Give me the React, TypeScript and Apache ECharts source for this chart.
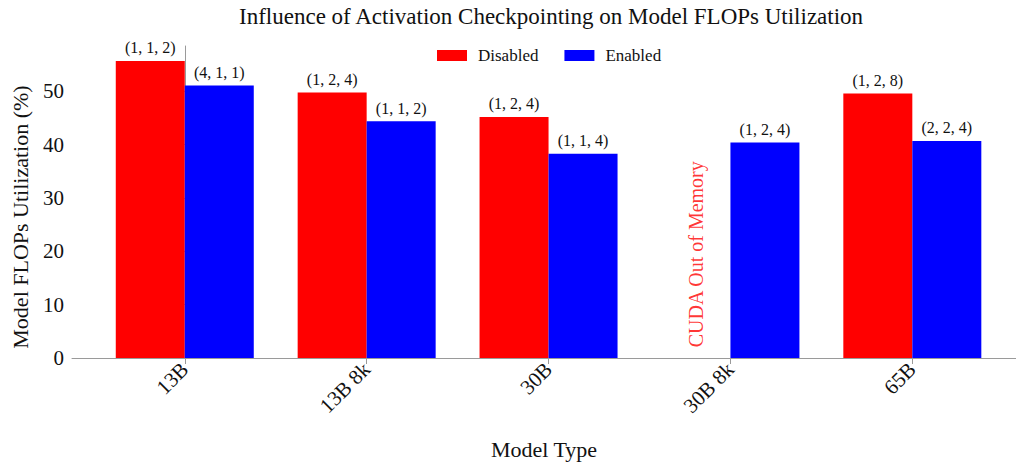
import React, { useEffect, useRef } from "react";
import * as echarts from "echarts";

const categories = ["13B", "13B 8k", "30B", "30B 8k", "65B"];
const disabledValues: (number | null)[] = [55.7, 49.8, 45.2, null, 49.6];
const enabledValues = [51.1, 44.4, 38.3, 40.4, 40.7];
const disabledLabels = ["(1, 1, 2)", "(1, 2, 4)", "(1, 2, 4)", "", "(1, 2, 8)"];
const enabledLabels = ["(4, 1, 1)", "(1, 1, 2)", "(1, 1, 4)", "(1, 2, 4)", "(2, 2, 4)"];
const yTicks = [0, 10, 20, 30, 40, 50];
const oomText = "CUDA Out of Memory";
const oomCategory = 3;
const oomY = 2;

const FONT = "Liberation Serif";
const TEXT = "#111111";
const AXIS = "#9a9a9a";

export default function App() {
  const ref = useRef<HTMLDivElement>(null);
  useEffect(() => {
    document.body.style.margin = "0";
    if (!ref.current) return;
    const chart = echarts.init(ref.current, undefined, { renderer: "svg" });
    const barWidth = 69;
    const disabledData = disabledValues
      .map((v, i) => (v == null ? null : [i, v]))
      .filter((d) => d !== null);
    const enabledData = enabledValues.map((v, i) => [i, v]);
    chart.setOption({
      animation: false,
      textStyle: { fontFamily: FONT, color: TEXT },
      title: {
        text: "Influence of Activation Checkpointing on Model FLOPs Utilization",
        left: 234,
        top: 0,
        textStyle: { fontFamily: FONT, fontSize: 23, fontWeight: "normal", color: TEXT },
      },
      legend: {
        left: 432,
        top: 42,
        itemWidth: 30,
        itemHeight: 11,
        itemGap: 26,
        icon: "rect",
        textStyle: { fontFamily: FONT, fontSize: 17, color: TEXT, padding: [0, 0, 0, 6] },
        data: ["Disabled", "Enabled"],
      },
      graphic: [
        {
          type: "text",
          x: 20,
          y: 217,
          rotation: Math.PI / 2,
          style: {
            text: "Model FLOPs Utilization (%)",
            fontFamily: FONT,
            fontSize: 22,
            fill: TEXT,
            align: "center",
            verticalAlign: "middle",
          },
        },
      ],
      grid: { left: 72, right: 0, top: 46, bottom: 103, containLabel: false },
      xAxis: {
        type: "value",
        min: -0.62,
        max: 4.57,
        name: "Model Type",
        nameLocation: "middle",
        nameGap: 80,
        nameTextStyle: { fontFamily: FONT, fontSize: 22, color: TEXT },
        splitLine: { show: false },
        axisLine: { lineStyle: { color: AXIS, width: 1 } },
        axisTick: { show: true, length: 6, lineStyle: { color: AXIS }, customValues: [0, 1, 2, 3, 4] },
        axisLabel: {
          rotate: 45,
          margin: 8,
          fontFamily: FONT,
          fontSize: 21,
          color: TEXT,
          customValues: [0, 1, 2, 3, 4],
          formatter: (v: number) => categories[Math.round(v)] ?? "",
        },
      },
      yAxis: {
        type: "value",
        min: 0,
        max: 58.5,
        interval: 10,
        splitLine: { show: false },
        axisLine: { show: true, lineStyle: { color: AXIS, width: 1 } },
        axisTick: { show: true, length: 5, lineStyle: { color: AXIS }, customValues: yTicks },
        axisLabel: {
          fontFamily: FONT,
          fontSize: 21,
          color: TEXT,
          margin: 8,
          customValues: yTicks,
        },
      },
      series: [
        {
          name: "Disabled",
          type: "bar",
          barWidth,
          barGap: "0%",
          itemStyle: { color: "#ff0000" },
          data: disabledData,
          label: {
            show: true,
            position: "top",
            distance: 5,
            fontFamily: FONT,
            fontSize: 16,
            color: TEXT,
            formatter: (p: any) => disabledLabels[p.value[0]],
          },
        },
        {
          name: "Enabled",
          type: "bar",
          barWidth,
          barGap: "0%",
          itemStyle: { color: "#0000ff" },
          data: enabledData,
          label: {
            show: true,
            position: "top",
            distance: 5,
            fontFamily: FONT,
            fontSize: 16,
            color: TEXT,
            formatter: (p: any) => enabledLabels[p.value[0]],
          },
        },
        {
          name: "oom",
          type: "scatter",
          symbolSize: 0,
          silent: true,
          data: [[oomCategory - 0.19, oomY]],
          label: {
            show: true,
            position: [0, 0],
            rotate: 90,
            align: "left",
            verticalAlign: "middle",
            fontFamily: FONT,
            fontSize: 20,
            color: "#ff0000",
            formatter: () => oomText,
          },
        },
      ],
    });
    return () => chart.dispose();
  }, []);
  return <div ref={ref} style={{ width: 1016, height: 465 }} />;
}
